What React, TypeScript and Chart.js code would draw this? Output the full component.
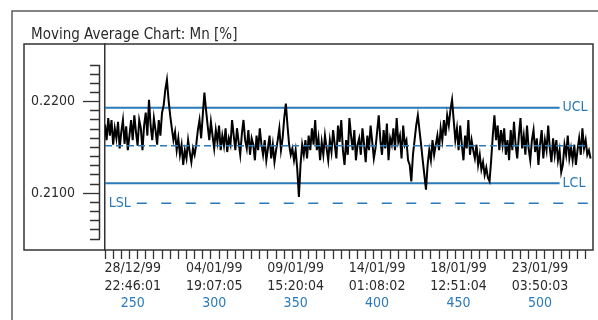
import React, { useEffect, useRef } from 'react';
import { Chart, registerables } from 'chart.js';

Chart.register(...registerables);

const FONT = "'Liberation Sans Narrow', 'DejaVu Sans Condensed', 'Roboto Condensed', 'Liberation Sans', sans-serif";
const BLUE = '#2a7ab9';
const INK = '#2b2b2b';

const chartTitle = 'Moving Average Chart: Mn [%]';

// sample numbers
const firstSample = 233;
const values = [
  0.2175, 0.2158, 0.2182, 0.2163, 0.2180, 0.2153, 0.2171,
  0.2160, 0.2178, 0.2149, 0.2167, 0.2180, 0.2154, 0.2173, 0.2147, 0.2163, 0.2180,
  0.2158, 0.2185, 0.2167, 0.2152, 0.2180, 0.2171, 0.2147, 0.2174, 0.2188, 0.2163,
  0.2202, 0.2174, 0.2158, 0.2182, 0.2169, 0.2153, 0.2180, 0.2163, 0.2188, 0.2196,
  0.2213, 0.2224, 0.2202, 0.2185, 0.2171, 0.2158, 0.2167, 0.2147, 0.2160, 0.2142,
  0.2153, 0.2131, 0.2147, 0.2138, 0.2158, 0.2145, 0.2134, 0.2149, 0.2142, 0.2153,
  0.2169, 0.2180, 0.2160, 0.2185, 0.2210, 0.2191, 0.2174, 0.2158, 0.2178, 0.2163,
  0.2149, 0.2169, 0.2156, 0.2174, 0.2147, 0.2163, 0.2152, 0.2171, 0.2145, 0.2160,
  0.2153, 0.2180, 0.2163, 0.2147, 0.2171, 0.2156, 0.2142, 0.2165, 0.2180, 0.2158,
  0.2149, 0.2169, 0.2142, 0.2160, 0.2153, 0.2136, 0.2163, 0.2147, 0.2171, 0.2153,
  0.2142, 0.2158, 0.2136, 0.2149, 0.2163, 0.2138, 0.2153, 0.2134, 0.2147, 0.2158,
  0.2171, 0.2147, 0.2160, 0.2182, 0.2198, 0.2174, 0.2153, 0.2142, 0.2149, 0.2136,
  0.2147, 0.2126, 0.2096, 0.2131, 0.2153, 0.2142, 0.2158, 0.2138, 0.2163, 0.2147,
  0.2171, 0.2153, 0.2180, 0.2147, 0.2160, 0.2136, 0.2156, 0.2142, 0.2163, 0.2149,
  0.2136, 0.2158, 0.2145, 0.2169, 0.2153, 0.2138, 0.2174, 0.2156, 0.2180, 0.2147,
  0.2131, 0.2158, 0.2142, 0.2182, 0.2163, 0.2147, 0.2169, 0.2136, 0.2153, 0.2160,
  0.2142, 0.2171, 0.2153, 0.2134, 0.2163, 0.2147, 0.2174, 0.2156, 0.2138, 0.2149,
  0.2167, 0.2185, 0.2158, 0.2142, 0.2169, 0.2149, 0.2176, 0.2136, 0.2160, 0.2153,
  0.2171, 0.2147, 0.2182, 0.2156, 0.2163, 0.2138, 0.2174, 0.2153, 0.2158, 0.2136,
  0.2131, 0.2113, 0.2142, 0.2158, 0.2174, 0.2185, 0.2169, 0.2153, 0.2136, 0.2120,
  0.2104, 0.2131, 0.2147, 0.2136, 0.2158, 0.2142, 0.2153, 0.2163, 0.2147, 0.2171,
  0.2158, 0.2180, 0.2163, 0.2185, 0.2174, 0.2191, 0.2202, 0.2180, 0.2158, 0.2171,
  0.2147, 0.2174, 0.2153, 0.2136, 0.2163, 0.2149, 0.2180, 0.2142, 0.2158, 0.2147,
  0.2138, 0.2153, 0.2131, 0.2142, 0.2126, 0.2134, 0.2120, 0.2128, 0.2117, 0.2113,
  0.2136, 0.2163, 0.2185, 0.2158, 0.2174, 0.2147, 0.2169, 0.2153, 0.2171, 0.2142,
  0.2158, 0.2136, 0.2169, 0.2147, 0.2178, 0.2153, 0.2138, 0.2163, 0.2182, 0.2149,
  0.2163, 0.2142, 0.2174, 0.2149, 0.2136, 0.2158, 0.2169, 0.2145, 0.2160, 0.2131,
  0.2153, 0.2169, 0.2138, 0.2158, 0.2147, 0.2174, 0.2149, 0.2134, 0.2160, 0.2142,
  0.2158, 0.2136, 0.2147, 0.2123, 0.2131, 0.2153, 0.2142, 0.2163, 0.2138, 0.2149,
  0.2136, 0.2153, 0.2131, 0.2147, 0.2160, 0.2142, 0.2171, 0.2149, 0.2158, 0.2142,
  0.2147, 0.2138,
];

// control limits
const centerLine = 0.2152;
const ucl = 0.21935;
const lcl = 0.2111;
const lsl = 0.2089;
const limitEnd = 512;
const centerEnd = 530;
const lslStart = 252.5;
const lslEnd = 530;

// x-axis labels
const labelSamples = [250, 300, 350, 400, 450, 500];
const labelDates = ['28/12/99', '04/01/99', '09/01/99', '14/01/99', '18/01/99', '23/01/99'];
const labelTimes = ['22:46:01', '19:07:05', '15:20:04', '01:08:02', '12:51:04', '03:50:03'];
const minorTickStart = 233;
const minorTickEnd = 530;
const minorTickStep = 5;

// y-axis
const yMin = 0.2038;
const yMax = 0.2263;
const yTickFromK = 2050; // in 1e-4 units
const yTickToK = 2240;
const yTickStepK = 10;
const xMin = 233;
const xMax = 532.5;

const isMajorY = (v: number) => Math.round(v * 10000) % 100 === 0;

const decor = {
  id: 'decor',
  beforeDraw(chart: any) {
    const ctx = chart.ctx;
    ctx.save();
    ctx.strokeStyle = '#5c5c5c';
    ctx.lineWidth = 1.5;
    ctx.beginPath();
    ctx.moveTo(12, chart.height);
    ctx.lineTo(12, 11);
    ctx.lineTo(chart.width, 11);
    ctx.stroke();
    ctx.fillStyle = INK;
    ctx.font = `15px ${FONT}`;
    ctx.textAlign = 'left';
    ctx.textBaseline = 'alphabetic';
    ctx.fillText(chartTitle, 31, 39);
    ctx.restore();
  },
  afterDraw(chart: any) {
    const ctx = chart.ctx;
    const a = chart.chartArea;
    const xs = chart.scales.x;
    const ys = chart.scales.y;
    ctx.save();
    ctx.strokeStyle = '#333';
    ctx.lineWidth = 1.5;
    ctx.strokeRect(24, a.top, a.right - 24, a.bottom - a.top);
    // y tick spine
    ctx.beginPath();
    ctx.moveTo(a.left - 5.5, ys.getPixelForValue(yTickToK / 10000));
    ctx.lineTo(a.left - 5.5, ys.getPixelForValue(yTickFromK / 10000));
    ctx.stroke();
    // limit labels
    ctx.fillStyle = BLUE;
    ctx.font = `14px ${FONT}`;
    ctx.textBaseline = 'middle';
    ctx.textAlign = 'left';
    ctx.fillText('UCL', xs.getPixelForValue(limitEnd) + 3, ys.getPixelForValue(ucl));
    ctx.fillText('LCL', xs.getPixelForValue(limitEnd) + 3, ys.getPixelForValue(lcl));
    ctx.textAlign = 'right';
    ctx.fillText('LSL', xs.getPixelForValue(lslStart) - 6, ys.getPixelForValue(lsl));
    ctx.restore();
  },
};

export default function App() {
  const ref = useRef<HTMLCanvasElement | null>(null);
  useEffect(() => {
    if (!ref.current) return;
    const minorTicks: number[] = [];
    for (let v = minorTickStart; v <= minorTickEnd; v += minorTickStep) minorTicks.push(v);
    const xTicks = [...minorTicks, ...labelSamples].sort((p, q) => p - q);
    const yTicks: number[] = [];
    for (let k = yTickFromK; k <= yTickToK; k += yTickStepK) yTicks.push(k / 10000);

    const series = values.map((v, i) => ({ x: firstSample + i, y: v }));
    const chart = new Chart(ref.current, {
      type: 'line',
      data: {
        datasets: [
          {
            data: [{ x: xMin, y: centerLine }, { x: centerEnd, y: centerLine }],
            borderColor: BLUE, borderWidth: 1.5, borderDash: [7, 4], pointRadius: 0,
          },
          {
            data: series,
            borderColor: '#000', borderWidth: 2, pointRadius: 0, tension: 0,
          },
          {
            data: [{ x: xMin, y: ucl }, { x: limitEnd, y: ucl }],
            borderColor: BLUE, borderWidth: 2, pointRadius: 0,
          },
          {
            data: [{ x: xMin, y: lcl }, { x: limitEnd, y: lcl }],
            borderColor: BLUE, borderWidth: 2, pointRadius: 0,
          },
          {
            data: [{ x: lslStart, y: lsl }, { x: lslEnd, y: lsl }],
            borderColor: BLUE, borderWidth: 1.5, borderDash: [10, 14.5], pointRadius: 0,
          },
        ],
      },
      options: {
        responsive: false,
        animation: false,
        events: [],
        layout: { padding: { left: 24, top: 44, right: 5, bottom: 0 } },
        plugins: { legend: { display: false }, tooltip: { enabled: false }, title: { display: false } },
        scales: {
          x: {
            type: 'linear',
            position: 'bottom',
            min: xMin,
            max: xMax,
            afterBuildTicks: (s: any) => { s.ticks = xTicks.map((v) => ({ value: v })); },
            afterFit: (s: any) => { s.height = 45; },
            border: { display: false },
            grid: {
              drawOnChartArea: false,
              drawTicks: true,
              tickLength: 9,
              tickWidth: 1.3,
              tickColor: (c: any) => (labelSamples.includes(c.tick?.value) ? 'rgba(0,0,0,0)' : '#333'),
            },
            ticks: {
              autoSkip: false,
              maxRotation: 0,
              minRotation: 0,
              padding: 0,
              color: INK,
              font: { family: FONT, size: 14, lineHeight: 1.3 },
              callback: (v: any) => {
                const i = labelSamples.indexOf(Number(v));
                return i >= 0 ? [labelDates[i], labelTimes[i]] : '';
              },
            },
          },
          xn: {
            type: 'linear',
            position: 'bottom',
            min: xMin,
            max: xMax,
            afterBuildTicks: (s: any) => { s.ticks = labelSamples.map((v) => ({ value: v })); },
            afterFit: (s: any) => { s.height = 25; },
            border: { display: false },
            grid: { display: false, drawTicks: false },
            ticks: {
              autoSkip: false,
              maxRotation: 0,
              padding: 0,
              color: BLUE,
              font: { family: FONT, size: 14 },
              callback: (v: any) => String(v),
            },
          },
          y: {
            type: 'linear',
            min: yMin,
            max: yMax,
            afterBuildTicks: (s: any) => { s.ticks = yTicks.map((v) => ({ value: v })); },
            afterFit: (s: any) => { s.width = 81; },
            border: { display: true, color: '#333', width: 1.5 },
            grid: {
              drawOnChartArea: false,
              drawTicks: true,
              tickLength: 22,
              tickWidth: 1.3,
              tickColor: '#333',
              tickBorderDash: (c: any) => (isMajorY(c.tick?.value ?? 0) ? [17, 100] : [0, 7, 10, 100]),
            },
            ticks: {
              autoSkip: false,
              padding: 8,
              color: INK,
              font: { family: FONT, size: 14 },
              callback: (v: any) => (isMajorY(Number(v)) ? Number(v).toFixed(4) : ''),
            },
          },
        },
      },
      plugins: [decor],
    } as any);
    return () => chart.destroy();
  }, []);

  return (
    <div style={{ position: 'absolute', left: 0, top: 0, width: 598, height: 320, background: '#fff' }}>
      <canvas ref={ref} width={598} height={320} style={{ display: 'block' }} />
    </div>
  );
}
